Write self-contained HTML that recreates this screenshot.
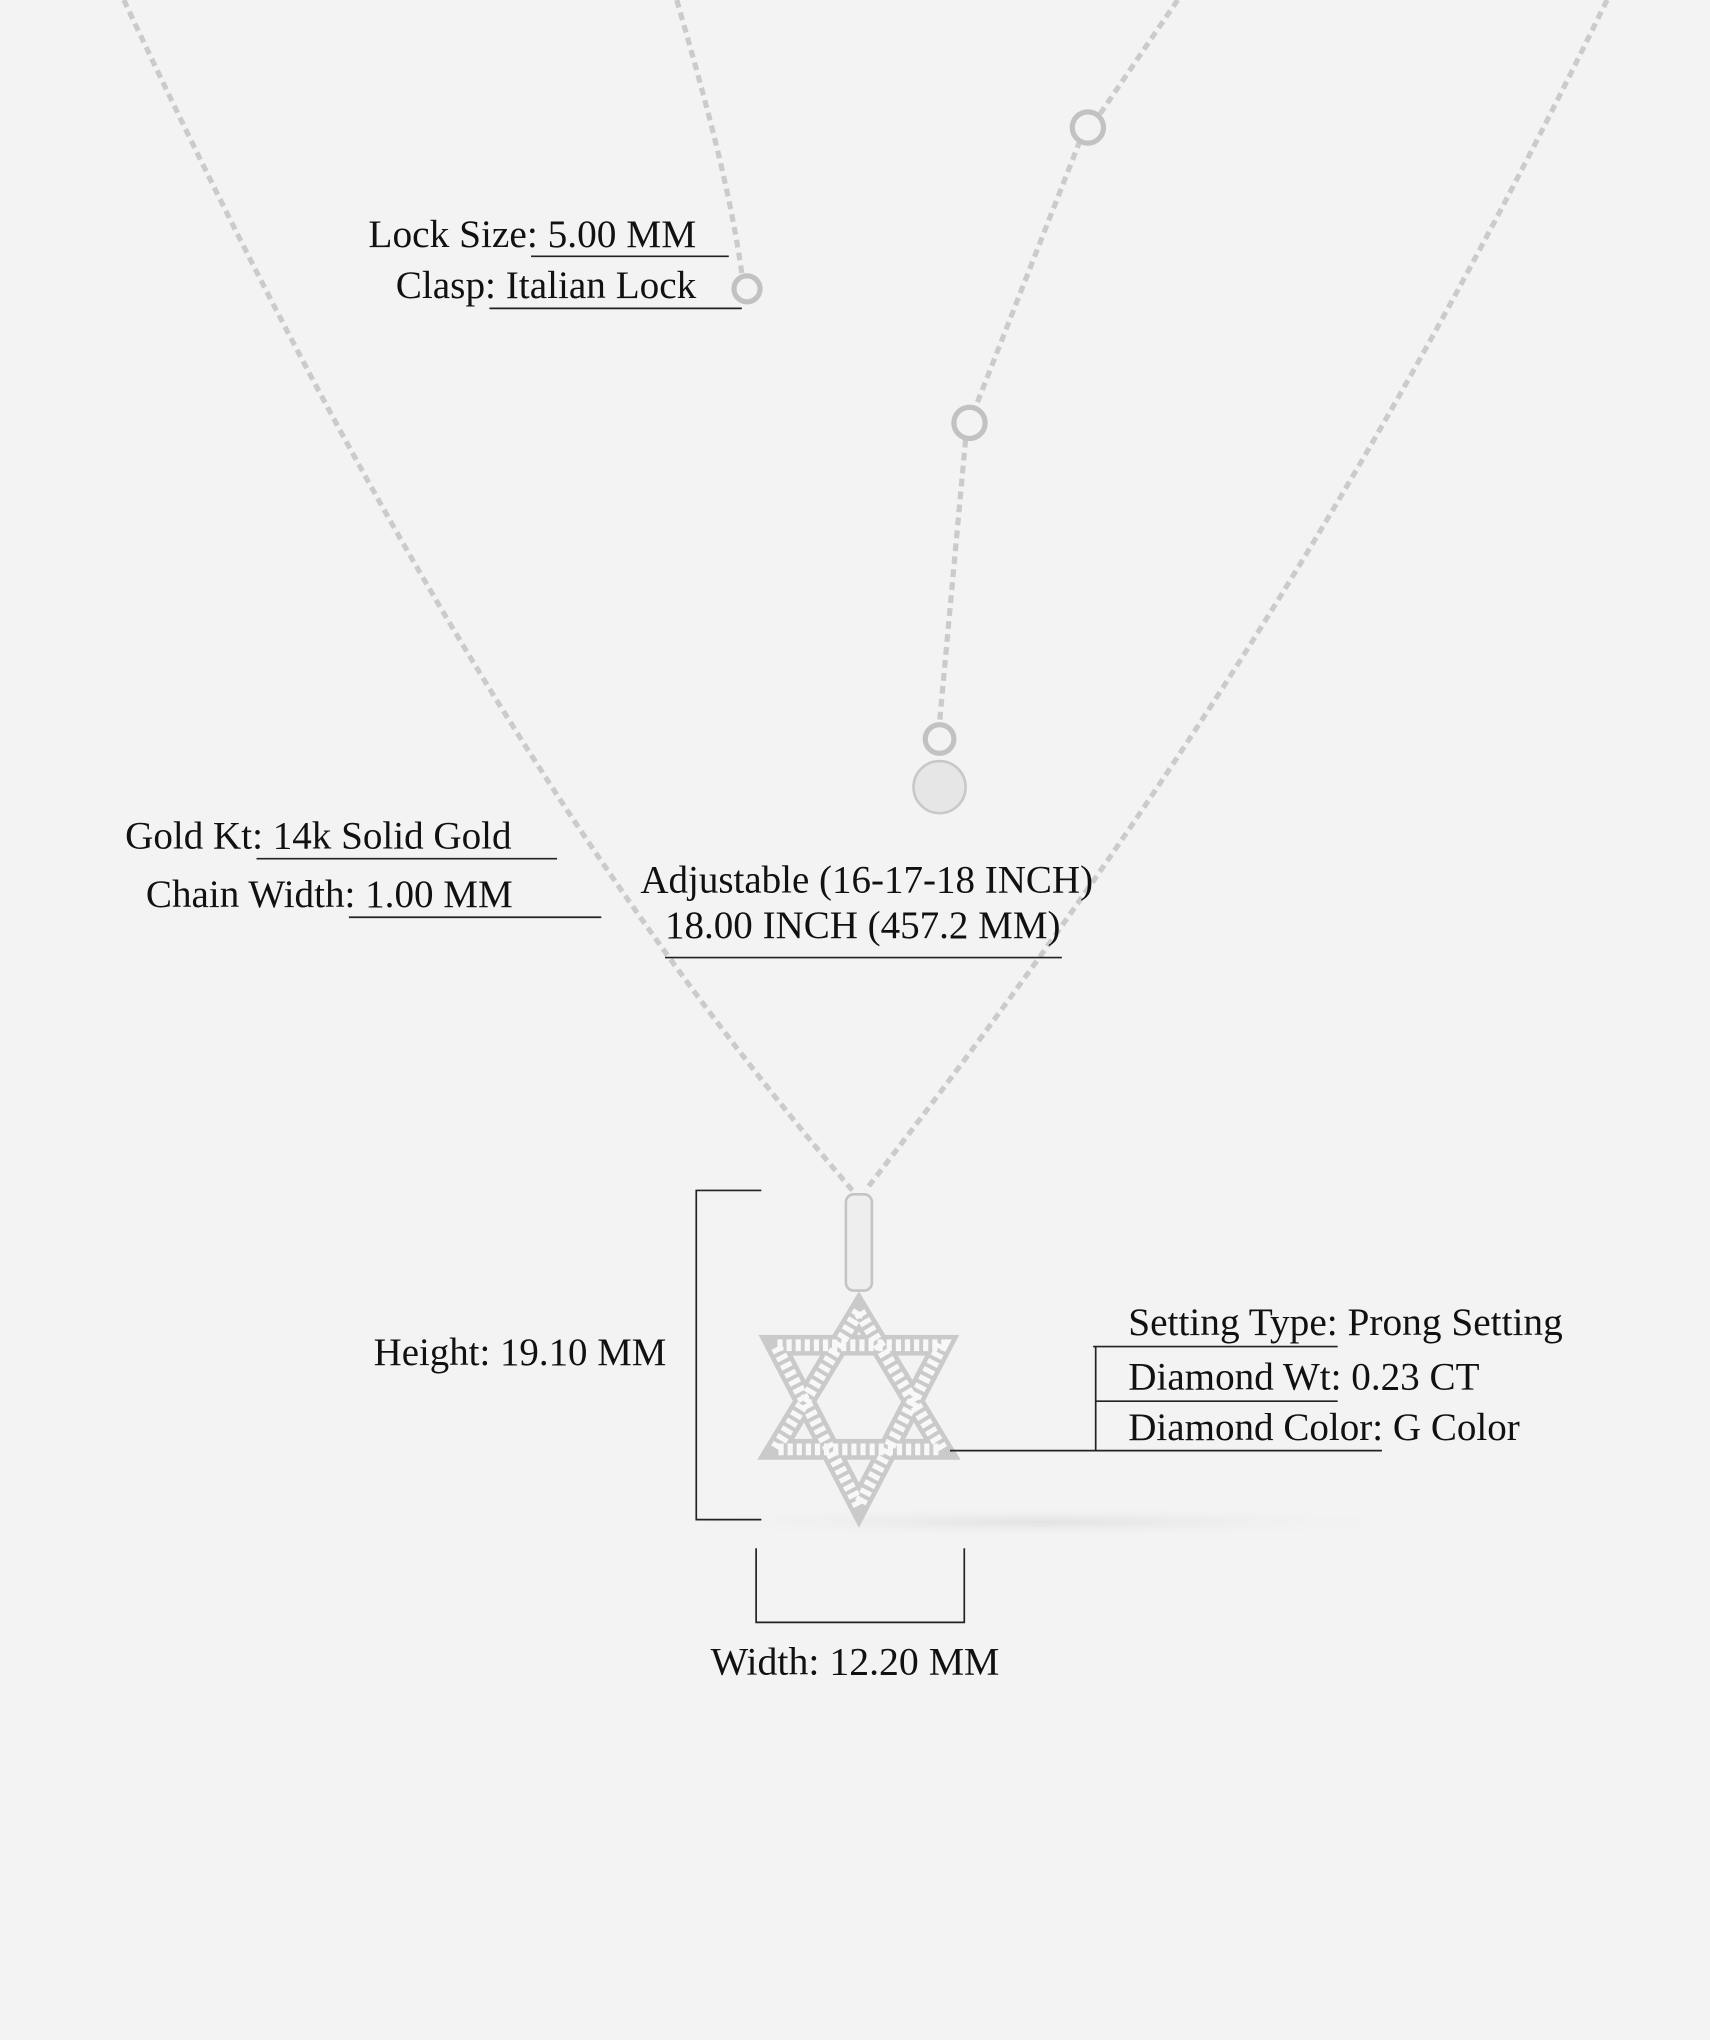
<!DOCTYPE html>
<html><head><meta charset="utf-8"><style>
html,body{margin:0;padding:0;background:#f3f3f3;}
svg{display:block}
text{font-family:"Liberation Serif",serif;font-size:30px;fill:#111}
</style></head><body>
<svg width="1710" height="2040" viewBox="0 0 1314 1568" xmlns="http://www.w3.org/2000/svg">
<rect width="1314" height="1568" fill="#f3f3f3"/>
<defs>
<radialGradient id="sh" cx="0.5" cy="0.5" r="0.5"><stop offset="0" stop-color="#e2e2e2"/><stop offset="1" stop-color="#f3f3f3" stop-opacity="0"/></radialGradient>
</defs>
<ellipse cx="800" cy="1170" rx="300" ry="12" fill="url(#sh)"/>
<g fill="none" stroke="#cbcbcb" stroke-width="4" stroke-dasharray="6 4">
<path d="M95,0 C250,330 420,640 655,915"/>
<path d="M1235,0 C1050,380 870,650 665,915"/>
<path d="M520,0 C540,70 560,140 570,210"/>
<path d="M905,0 L845,88"/>
<path d="M830,108 L750,312"/>
<path d="M742,338 L722,555"/>
</g>
<g fill="none" stroke="#c2c2c2" stroke-width="4">
<circle cx="836" cy="98" r="12"/>
<circle cx="745" cy="325" r="12"/>
<circle cx="722" cy="568" r="11"/>
<circle cx="574" cy="222" r="10"/>
</g>
<circle cx="722" cy="605" r="20" fill="#e6e6e6" stroke="#c8c8c8" stroke-width="2"/>
<rect x="650" y="918" width="20" height="74" rx="6" fill="#eee" stroke="#c4c4c4" stroke-width="2"/>
<g fill="none" stroke-linejoin="miter">
<polygon points="660,1008 596,1114 724,1114" stroke="#cacaca" stroke-width="16"/>
<polygon points="660,1157 596,1034 724,1034" stroke="#cacaca" stroke-width="16"/>
<polygon points="660,1008 596,1114 724,1114" stroke="#f8f8f8" stroke-width="9" stroke-dasharray="4 3"/>
<polygon points="660,1157 596,1034 724,1034" stroke="#f8f8f8" stroke-width="9" stroke-dasharray="4 3"/>
</g>
<g stroke="#222" stroke-width="1.3" fill="none">
<path d="M408,197 H560"/>
<path d="M376,237 H570"/>
<path d="M197,660 H428"/>
<path d="M268,705 H462"/>
<path d="M511,736 H816"/>
<path d="M585,915 H535 V1168 H585"/>
<path d="M581,1190 V1247 H741 V1190"/>
<path d="M840,1035 H1028"/>
<path d="M842,1035 V1115"/>
<path d="M842,1077 H1028"/>
<path d="M730,1115 H1062"/>
</g>
<text x="283" y="190" textLength="252" lengthAdjust="spacingAndGlyphs">Lock Size: 5.00 MM</text>
<text x="304" y="229" textLength="231" lengthAdjust="spacingAndGlyphs">Clasp: Italian Lock</text>
<text x="96" y="652" textLength="297" lengthAdjust="spacingAndGlyphs">Gold Kt: 14k Solid Gold</text>
<text x="112" y="697" textLength="282" lengthAdjust="spacingAndGlyphs">Chain Width: 1.00 MM</text>
<text x="492" y="686" textLength="348" lengthAdjust="spacingAndGlyphs">Adjustable (16-17-18 INCH)</text>
<text x="511" y="721" textLength="304" lengthAdjust="spacingAndGlyphs">18.00 INCH (457.2 MM)</text>
<text x="287" y="1049" textLength="225" lengthAdjust="spacingAndGlyphs">Height: 19.10 MM</text>
<text x="546" y="1287" textLength="222" lengthAdjust="spacingAndGlyphs">Width: 12.20 MM</text>
<text x="867" y="1026" textLength="334" lengthAdjust="spacingAndGlyphs">Setting Type: Prong Setting</text>
<text x="867" y="1068" textLength="270" lengthAdjust="spacingAndGlyphs">Diamond Wt: 0.23 CT</text>
<text x="867" y="1107" textLength="301" lengthAdjust="spacingAndGlyphs">Diamond Color: G Color</text>
</svg>
</body></html>
